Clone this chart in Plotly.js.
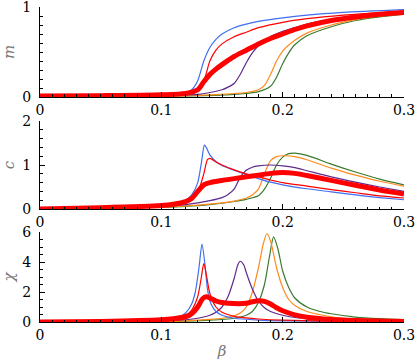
<!DOCTYPE html>
<html><head><meta charset="utf-8">
<script src="https://cdn.plot.ly/plotly-3.0.1.min.js"></script>
<style>body{margin:0;background:#fff}#plot{width:415px;height:360px}</style>
</head><body><div id="plot"></div>
<script>
// ---- magnetisation m ----
const mBlueX   = [0,0.05,0.1,0.12,0.125,0.13,0.135,0.14,0.145,0.15,0.16,0.17,0.18,0.2,0.22,0.25,0.3];
const mBlueY   = [0.01,0.015,0.03,0.05,0.08,0.18,0.40,0.55,0.64,0.70,0.77,0.81,0.84,0.88,0.91,0.94,0.97];
const mRedX    = [0,0.05,0.1,0.12,0.13,0.135,0.14,0.145,0.15,0.16,0.17,0.18,0.2,0.22,0.25,0.3];
const mRedY    = [0.01,0.015,0.03,0.05,0.09,0.18,0.40,0.52,0.59,0.67,0.72,0.77,0.83,0.87,0.91,0.955];
const mPurX    = [0,0.05,0.1,0.13,0.14,0.15,0.155,0.16,0.165,0.17,0.175,0.18,0.19,0.2,0.21,0.22,0.24,0.26,0.28,0.3];
const mPurY    = [0.005,0.008,0.015,0.03,0.05,0.08,0.11,0.15,0.25,0.38,0.49,0.57,0.67,0.73,0.77,0.81,0.86,0.89,0.92,0.94];
const mOraX    = [0,0.05,0.1,0.15,0.17,0.18,0.185,0.19,0.195,0.2,0.21,0.22,0.24,0.26,0.28,0.3];
const mOraY    = [0.005,0.007,0.01,0.03,0.05,0.08,0.13,0.25,0.40,0.51,0.63,0.71,0.80,0.86,0.90,0.93];
const mGreX    = [0,0.05,0.1,0.15,0.17,0.18,0.19,0.195,0.2,0.205,0.21,0.22,0.24,0.26,0.28,0.3];
const mGreY    = [0.005,0.007,0.01,0.02,0.04,0.06,0.12,0.22,0.37,0.49,0.58,0.68,0.78,0.85,0.89,0.92];
const mThkX    = [0,0.05,0.1,0.12,0.13,0.135,0.14,0.145,0.15,0.16,0.17,0.18,0.19,0.2,0.21,0.22,0.24,0.26,0.28,0.3];
const mThkY    = [0.01,0.015,0.025,0.04,0.08,0.17,0.25,0.31,0.36,0.45,0.52,0.59,0.65,0.70,0.75,0.79,0.85,0.89,0.92,0.94];
// ---- specific heat c ----
const cBlueX = [0,0.05,0.1,0.11,0.12,0.125,0.13,0.133,0.1355,0.137,0.14,0.145,0.15,0.16,0.17,0.18,0.19,0.2,0.22,0.24,0.26,0.28,0.3];
const cBlueY = [0,0.03,0.09,0.12,0.2,0.32,0.6,1.05,1.45,1.40,1.23,1.08,0.99,0.88,0.78,0.69,0.61,0.55,0.46,0.39,0.32,0.26,0.21];
const cRedX  = [0,0.05,0.1,0.11,0.12,0.125,0.13,0.135,0.138,0.14,0.145,0.15,0.16,0.17,0.18,0.19,0.2,0.22,0.24,0.26,0.28,0.3];
const cRedY  = [0,0.03,0.08,0.11,0.17,0.24,0.38,0.8,1.12,1.15,1.07,1.0,0.89,0.8,0.73,0.66,0.6,0.52,0.44,0.37,0.3,0.25];
const cPurX  = [0,0.05,0.1,0.12,0.13,0.14,0.15,0.155,0.16,0.165,0.17,0.175,0.18,0.19,0.2,0.21,0.22,0.24,0.26,0.28,0.3];
const cPurY  = [0,0.02,0.06,0.1,0.14,0.19,0.26,0.33,0.45,0.72,0.88,0.95,0.98,1.0,0.98,0.94,0.87,0.73,0.61,0.5,0.4];
const cOraX  = [0,0.05,0.1,0.12,0.14,0.16,0.17,0.175,0.18,0.185,0.19,0.195,0.2,0.21,0.22,0.24,0.26,0.28,0.3];
const cOraY  = [0,0.01,0.04,0.07,0.11,0.18,0.25,0.32,0.45,0.8,1.1,1.19,1.21,1.19,1.12,0.93,0.77,0.63,0.52];
const cGreX  = [0,0.05,0.1,0.12,0.14,0.16,0.17,0.18,0.185,0.19,0.195,0.2,0.205,0.21,0.22,0.24,0.26,0.28,0.3];
const cGreY  = [0,0.01,0.04,0.06,0.1,0.17,0.22,0.3,0.45,0.7,1.0,1.18,1.26,1.27,1.22,1.02,0.84,0.68,0.55];
const cThkX  = [0,0.05,0.1,0.11,0.12,0.125,0.13,0.135,0.14,0.15,0.16,0.17,0.18,0.19,0.2,0.21,0.22,0.24,0.26,0.28,0.3];
const cThkY  = [0,0.03,0.08,0.11,0.17,0.24,0.4,0.55,0.6,0.65,0.69,0.73,0.77,0.81,0.83,0.81,0.76,0.65,0.54,0.43,0.34];
// ---- susceptibility chi ----
const xBlueX = [0,0.05,0.1,0.11,0.115,0.12,0.125,0.128,0.131,0.1335,0.136,0.138,0.14,0.145,0.15,0.16,0.18,0.2,0.25,0.3];
const xBlueY = [0,0.03,0.15,0.25,0.35,0.6,1.2,2.0,3.6,5.2,3.8,2.2,1.4,0.7,0.45,0.25,0.13,0.08,0.04,0.02];
const xRedX  = [0,0.05,0.1,0.11,0.12,0.125,0.13,0.133,0.135,0.137,0.14,0.145,0.15,0.16,0.17,0.18,0.2,0.25,0.3];
const xRedY  = [0,0.03,0.13,0.2,0.45,0.8,1.7,3.0,3.9,3.2,1.9,1.0,0.65,0.38,0.27,0.2,0.12,0.05,0.03];
const xPurX  = [0,0.05,0.1,0.12,0.13,0.14,0.145,0.15,0.155,0.16,0.163,0.165,0.168,0.17,0.175,0.18,0.185,0.19,0.2,0.21,0.22,0.24,0.26,0.3];
const xPurY  = [0,0.02,0.07,0.15,0.25,0.45,0.65,1.0,1.7,2.9,3.8,4.05,3.8,3.3,2.2,1.4,0.95,0.7,0.45,0.3,0.22,0.12,0.07,0.03];
const xOraX  = [0,0.05,0.1,0.12,0.14,0.15,0.16,0.165,0.17,0.175,0.18,0.184,0.187,0.19,0.195,0.2,0.205,0.21,0.22,0.23,0.24,0.26,0.28,0.3];
const xOraY  = [0,0.01,0.04,0.08,0.17,0.25,0.42,0.6,1.0,2.0,3.6,5.2,5.9,5.4,3.6,2.3,1.5,1.1,0.7,0.5,0.35,0.18,0.1,0.06];
const xGreX  = [0,0.05,0.1,0.12,0.14,0.16,0.17,0.175,0.18,0.185,0.189,0.1925,0.196,0.2,0.205,0.21,0.22,0.23,0.24,0.26,0.28,0.3];
const xGreY  = [0,0.01,0.03,0.06,0.12,0.25,0.45,0.7,1.3,2.5,4.3,5.67,4.9,3.4,2.3,1.6,1.0,0.72,0.55,0.33,0.22,0.16];
const xThkX  = [0,0.05,0.1,0.11,0.12,0.125,0.13,0.134,0.137,0.14,0.145,0.15,0.16,0.17,0.175,0.18,0.185,0.19,0.195,0.2,0.21,0.22,0.24,0.26,0.28,0.3];
const xThkY  = [0,0.04,0.15,0.22,0.35,0.55,1.0,1.55,1.68,1.6,1.4,1.3,1.23,1.25,1.35,1.42,1.38,1.2,0.95,0.75,0.48,0.32,0.17,0.1,0.06,0.04];

const yLabels = ['m','c','χ'];
const xTickVals = [0,0.1,0.2,0.3];
const xTickText = ['0','0.1','0.2','0.3'];

const BLUE='#3f6ff0', RED='#ff0000', PUR='#5e2a8c', ORA='#ff8a1c', GRE='#3b7a2e';
function ln(x,y,col,w,ax){
  return {x:x,y:y,type:'scatter',mode:'lines',xaxis:ax[0],yaxis:ax[1],
    line:{color:col,width:w,shape:'spline',smoothing:0.7},hoverinfo:'skip',showlegend:false};
}
const A1=['x','y'],A2=['x2','y2'],A3=['x3','y3'];
const data=[
  ln(mGreX,mGreY,GRE,1.2,A1),ln(mOraX,mOraY,ORA,1.2,A1),ln(mPurX,mPurY,PUR,1.2,A1),
  ln(mBlueX,mBlueY,BLUE,1.2,A1),ln(mRedX,mRedY,RED,1.2,A1),ln(mThkX,mThkY,RED,5,A1),
  ln(cGreX,cGreY,GRE,1.2,A2),ln(cOraX,cOraY,ORA,1.2,A2),ln(cPurX,cPurY,PUR,1.2,A2),
  ln(cBlueX,cBlueY,BLUE,1.2,A2),ln(cRedX,cRedY,RED,1.2,A2),ln(cThkX,cThkY,RED,5,A2),
  ln(xGreX,xGreY,GRE,1.2,A3),ln(xOraX,xOraY,ORA,1.2,A3),ln(xPurX,xPurY,PUR,1.2,A3),
  ln(xBlueX,xBlueY,BLUE,1.2,A3),ln(xRedX,xRedY,RED,1.2,A3),ln(xThkX,xThkY,RED,5,A3)
];
const SERIF='"DejaVu Serif", "Liberation Serif", "Times New Roman", serif';
const FONT={family:SERIF,size:14,color:'#000'};
const domains=[[0.7143,1],[0.3587,0.6381],[0,0.2857]];
const yr=[[0,1],[0,2],[0,6]], ydt=[1,1,2], ymin=[0.1,0.2,0.5];
const layout={width:415,height:360,margin:{l:39.5,r:11,t:7,b:38},
  paper_bgcolor:'#fff',plot_bgcolor:'#fff',font:FONT,showlegend:false};
for(let i=0;i<3;i++){
  const s=i===0?'':String(i+1);
  const ys='y'+s, xs='x'+s;
  layout['xaxis'+s]={domain:[0,1],anchor:ys,range:[0,0.3],tickmode:'array',tickvals:xTickVals,ticktext:xTickText,
    ticks:'inside',ticklen:5,tickcolor:'#000',linecolor:'#000',linewidth:1,showline:true,showgrid:false,zeroline:false,
    tickfont:FONT,ticklabeloverflow:'allow',minor:{dtick:0.01,ticks:'inside',ticklen:2.5,tickcolor:'#000',showgrid:false},
    title:i===2?{text:'<i>β</i>',font:{family:SERIF,size:15,color:'#777'},standoff:4}:undefined};
  layout['yaxis'+s]={domain:domains[i],anchor:xs,range:yr[i],dtick:ydt[i],tick0:0,
    ticks:'inside',ticklen:5,tickcolor:'#000',linecolor:'#000',linewidth:1,showline:true,showgrid:false,zeroline:false,
    tickfont:FONT,ticklabelstandoff:5,ticklabeloverflow:'allow',minor:{dtick:ymin[i],ticks:'inside',ticklen:2.5,tickcolor:'#000',showgrid:false},
    title:{text:'<i>'+yLabels[i]+'</i>',font:{family:SERIF,size:15,color:'#777'},standoff:6}};
  const k=i+4;
  layout['xaxis'+k]={overlaying:xs,anchor:ys,side:'top',range:[0,0.3],dtick:0.1,tick0:0,showticklabels:false,
    ticks:'inside',ticklen:5,tickcolor:'#888',linecolor:'#888',linewidth:1.2,showline:true,showgrid:false,zeroline:false,
    minor:{dtick:0.01,ticks:'inside',ticklen:2.5,tickcolor:'#888',showgrid:false}};
  layout['yaxis'+k]={overlaying:ys,anchor:xs,side:'right',range:yr[i],dtick:ydt[i],tick0:0,showticklabels:false,
    ticks:'inside',ticklen:5,tickcolor:'#888',linecolor:'#888',linewidth:1.2,showline:true,showgrid:false,zeroline:false,
    minor:{dtick:ymin[i],ticks:'inside',ticklen:2.5,tickcolor:'#888',showgrid:false}};
}
Plotly.newPlot('plot',data,layout,{staticPlot:true,displayModeBar:false});
</script></body></html>
